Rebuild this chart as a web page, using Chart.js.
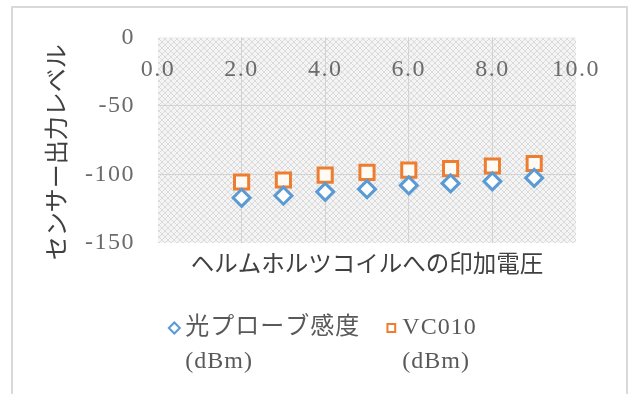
<!DOCTYPE html>
<html>
<head>
<meta charset="utf-8">
<script src="https://cdn.jsdelivr.net/npm/chart.js@4.4.1/dist/chart.umd.min.js"></script>
<style>
  html, body { margin: 0; padding: 0; background: #ffffff; }
  #wrap { width: 630px; height: 394px; }
</style>
</head>
<body>
<div id="wrap"><canvas id="chart" width="630" height="394"></canvas></div>
<script>
// Applied voltage on the Helmholtz coil (x) and sensor output levels in dBm
const voltages = [2, 3, 4, 5, 6, 7, 8, 9];
const probeLevels = [-117, -115.5, -112.7, -110.7, -108, -106.5, -105, -102.5];
const vc010Levels = [-105.5, -104, -100.5, -98.5, -96.8, -95.7, -93.8, -92];
const seriesNames = [['光プローブ感度', '(dBm)'], ['VC010', '(dBm)']];
const xTickValues = [0, 2, 4, 6, 8, 10];
const yTickValues = [0, -50, -100, -150];
const xTitle = 'ヘルムホルツコイルへの印加電圧';
const yTitle = 'センサー出力レベル';

const SERIF = '"Liberation Serif", "Noto Sans CJK JP", serif';
const CJK = '"Noto Sans CJK JP", sans-serif';
const BLUE = '#5b9bd5';
const ORANGE = '#ed7d31';
const GRID = '#d3d3d3';

function makeHatch(ctx) {
  const c = document.createElement('canvas');
  c.width = 6; c.height = 6;
  const g = c.getContext('2d');
  g.fillStyle = '#f4f4f4';
  g.fillRect(0, 0, 6, 6);
  g.strokeStyle = '#dbdbdb';
  g.lineWidth = 1;
  g.beginPath();
  g.moveTo(0, 0); g.lineTo(6, 6);
  g.moveTo(6, 0); g.lineTo(0, 6);
  g.stroke();
  return ctx.createPattern(c, 'repeat');
}

// white card with a thin frame, and the hatched plot area
const frameAndPlotFill = {
  id: 'frameAndPlotFill',
  beforeDraw(chart) {
    const { ctx, chartArea: a } = chart;
    ctx.save();
    ctx.fillStyle = '#ffffff';
    ctx.fillRect(0, 0, chart.width, chart.height);
    ctx.strokeStyle = '#d9d9d9';
    ctx.lineWidth = 2;
    ctx.strokeRect(12, 7, 615, 400);
    ctx.fillStyle = makeHatch(ctx);
    ctx.fillRect(a.left, a.top, a.right - a.left, a.bottom - a.top);
    ctx.restore();

    // slightly wider letter spacing for the tick labels
    Object.values(chart.scales).forEach(scale => {
      if (scale._spacedLabels) return;
      const orig = scale.drawLabels;
      scale.drawLabels = function (area) {
        const c = this.ctx;
        c.save();
        c.letterSpacing = '1.5px';
        orig.call(this, area);
        c.restore();
      };
      scale._spacedLabels = true;
    });
  }
};

// two-line legend entries below the axis title
const bottomLegend = {
  id: 'bottomLegend',
  afterDraw(chart) {
    const { ctx } = chart;
    ctx.save();
    ctx.font = '24px ' + SERIF;
    ctx.letterSpacing = '1px';
    const widths = seriesNames.map(lines => Math.max(...lines.map(t => ctx.measureText(t).width)));
    const markerSlot = 16, itemGap = 26;
    const total = widths.reduce((s, w) => s + markerSlot + w, 0) + itemGap * (widths.length - 1);
    let x = 323 - total / 2;
    const y1 = 328, lineStep = 34;
    chart.data.datasets.forEach((ds, i) => {
      const style = { pointStyle: ds.pointStyle, radius: 5.5, borderWidth: 2, rotation: 0 };
      ctx.fillStyle = '#ffffff';
      ctx.strokeStyle = ds.borderColor;
      ctx.lineWidth = 2;
      Chart.helpers.drawPoint(ctx, style, x + 5, y1);
      ctx.fillStyle = '#595959';
      ctx.textAlign = 'left';
      ctx.textBaseline = 'middle';
      seriesNames[i].forEach((line, k) => {
        ctx.fillText(line, x + markerSlot, y1 + k * lineStep);
      });
      x += markerSlot + widths[i] + itemGap;
    });
    ctx.restore();
  }
};

const edgeless = (lo, hi) => c => (c.tick && (c.tick.value === lo || c.tick.value === hi)) ? 'rgba(0,0,0,0)' : GRID;

new Chart(document.getElementById('chart'), {
  type: 'scatter',
  data: {
    datasets: [
      {
        label: seriesNames[0].join(' '),
        data: voltages.map((v, i) => ({ x: v, y: probeLevels[i] })),
        pointStyle: 'rectRot',
        pointRadius: 8.5,
        pointBorderWidth: 3,
        borderColor: BLUE,
        backgroundColor: '#ffffff',
        showLine: false
      },
      {
        label: seriesNames[1].join(' '),
        data: voltages.map((v, i) => ({ x: v, y: vc010Levels[i] })),
        pointStyle: 'rect',
        pointRadius: 10,
        pointBorderWidth: 3,
        borderColor: ORANGE,
        backgroundColor: '#fffaf3',
        showLine: false
      }
    ]
  },
  options: {
    responsive: false,
    devicePixelRatio: 1,
    animation: false,
    layout: { padding: { left: 41, right: 54, top: 35, bottom: 109 } },
    scales: {
      x: {
        type: 'linear',
        position: { y: 0 },
        min: 0, max: 10,
        afterBuildTicks: s => { s.ticks = xTickValues.map(v => ({ value: v })); },
        ticks: {
          padding: 18, color: '#6b6b6b', maxRotation: 0, autoSkip: false,
          font: { family: SERIF, size: 24 },
          callback: v => Number(v).toFixed(1)
        },
        grid: { color: edgeless(0, 10), lineWidth: 1, drawTicks: false },
        border: { display: false }
      },
      xTitleAxis: {
        type: 'linear',
        axis: 'x',
        position: 'bottom',
        min: 0, max: 10,
        ticks: { display: false },
        grid: { display: false, drawTicks: false },
        border: { display: false },
        title: {
          display: true, text: xTitle, color: '#404040',
          font: { family: CJK, size: 23.5 },
          padding: { top: 6, bottom: 8 }
        },
        afterFit: s => { s.height = 42; }
      },
      y: {
        type: 'linear',
        min: -150, max: 0,
        afterBuildTicks: s => { s.ticks = yTickValues.map(v => ({ value: v })); },
        ticks: {
          padding: 23, color: '#6b6b6b',
          font: { family: SERIF, size: 24 }
        },
        grid: { color: edgeless(0, -150), lineWidth: 1, drawTicks: false },
        border: { display: false },
        title: {
          display: true, text: yTitle + '\u3000', color: '#404040',
          font: { family: CJK, size: 24 },
          padding: { top: 0, bottom: 0 }
        },
        afterFit: s => { s.width = 117; }
      }
    },
    plugins: {
      tooltip: { enabled: false },
      legend: { display: false }
    }
  },
  plugins: [frameAndPlotFill, bottomLegend]
});
</script>
</body>
</html>
